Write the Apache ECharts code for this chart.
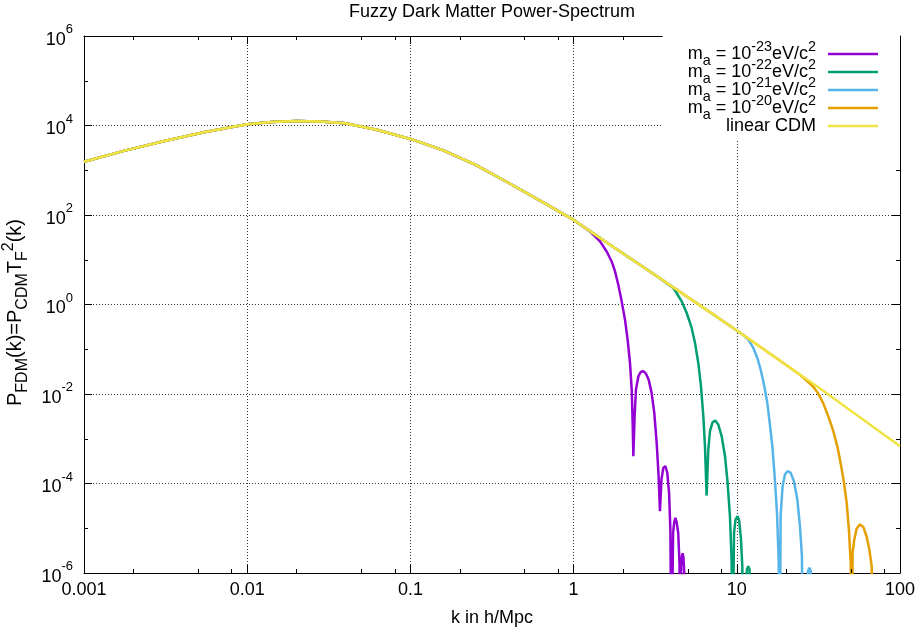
<!DOCTYPE html>
<html>
<head>
<meta charset="utf-8">
<script src="https://cdn.jsdelivr.net/npm/echarts@6/dist/echarts.min.js"></script>
<style>html,body{margin:0;padding:0;background:#fff}#c{width:922px;height:637px}</style>
</head>
<body>
<div id="c"></div>
<script>
// ---------------- data ----------------
const cdmK = [0.001, 0.00178, 0.00316, 0.00562, 0.01, 0.0141, 0.02, 0.0282, 0.0398, 0.0631, 0.1, 0.158, 0.251, 0.398, 0.631, 1, 1.78, 3.16, 5.62, 10, 17.8, 31.6, 56.2, 100];
const cdmP = [1550, 2750, 4570, 7240, 10700, 12000, 12600, 12300, 11200, 7940, 5010, 2820, 1320, 525, 204, 77.6, 18.6, 4.57, 1.10, 0.263, 0.0603, 0.0141, 0.00309, 0.000676];

// m_a = 1e-23 eV/c^2 (part that leaves the CDM curve)
const fdm23K = [1.260, 1.452, 1.594, 1.711, 1.794, 1.879, 1.970, 2.065, 2.143, 2.216, 2.270, 2.301, 2.323, 2.365, 2.410, 2.495, 2.576, 2.673, 2.777, 2.884, 3.006, 3.122, 3.228, 3.319, 3.381, 3.456, 3.545, 3.648, 3.750, 3.846, 3.917, 3.981, 4.071, 4.140, 4.207, 4.285, 4.375, 4.457, 4.498, 4.560, 4.613, 4.656, 4.710, 4.764, 4.842];
const fdm23P = [42.9, 25.7, 15.3, 9.16, 5.48, 2.77, 1.175, 0.458, 0.164, 0.0494, 0.0126, 2.26e-3, 4.07e-4, 3.16e-3, 0.0126, 0.0248, 0.0310, 0.0324, 0.0285, 0.0209, 0.0106, 3.80e-3, 8.13e-4, 1.45e-4, 2.40e-5, 1.23e-4, 2.24e-4, 2.45e-4, 1.74e-4, 6.17e-5, 9.33e-6, 1e-8, 7.94e-6, 1.41e-5, 1.70e-5, 1.32e-5, 7.94e-6, 1.58e-6, 1e-8, 1.41e-6, 2.40e-6, 2.75e-6, 2.24e-6, 1.0e-6, 1e-9];

// m_a = 1e-22 eV/c^2
const fdm22K = [4.083, 4.276, 4.592, 4.932, 5.291, 5.546, 5.808, 6.034, 6.237, 6.383, 6.531, 6.691, 6.851, 7.112, 7.379, 7.691, 8.072, 8.466, 8.783, 9.078, 9.290, 9.419, 9.616, 9.831, 10.11, 10.35, 10.61, 10.81, 10.96, 11.53, 11.75, 11.97, 12.30];
const fdm22P = [2.34, 1.807, 1.175, 0.646, 0.299, 0.138, 0.0494, 0.0148, 3.16e-3, 6.76e-4, 5.37e-5, 5.75e-4, 1.48e-3, 2.34e-3, 2.57e-3, 2.09e-3, 1.15e-3, 4.07e-4, 1.04e-4, 1.86e-5, 2.0e-6, 1e-8, 7.94e-6, 1.58e-5, 1.86e-5, 1.45e-5, 5.62e-6, 1.41e-6, 1e-8, 1.20e-6, 1.41e-6, 1.20e-6, 1e-9];

// m_a = 1e-21 eV/c^2
const fdm21K = [10.96, 11.76, 12.62, 13.36, 14.00, 14.68, 15.38, 15.91, 16.52, 17.06, 17.63, 18.05, 18.37, 18.56, 19.08, 19.72, 20.46, 21.36, 22.39, 23.49, 24.38, 25.06, 25.41, 27.35, 27.86, 28.38, 29.51];
const fdm21P = [0.208, 0.164, 0.107, 0.0640, 0.0351, 0.0162, 6.31e-3, 2.26e-3, 6.76e-4, 1.45e-4, 2.24e-5, 2.0e-6, 1e-8, 1.86e-5, 8.71e-5, 1.58e-4, 1.88e-4, 1.74e-4, 1.12e-4, 4.37e-5, 1.12e-5, 2.40e-6, 1e-8, 1.12e-6, 1.32e-6, 1.10e-6, 1e-9];

// m_a = 1e-20 eV/c^2
const fdm20K = [24.38, 26.79, 29.44, 31.58, 33.88, 36.37, 39.02, 41.30, 43.25, 45.39, 47.10, 48.64, 49.89, 50.82, 51.24, 52.46, 54.20, 56.87, 59.57, 62.48, 64.86, 67.07, 68.39];
const fdm20P = [0.0269, 0.0200, 0.0145, 0.0102, 6.17e-3, 3.16e-3, 1.48e-3, 6.76e-4, 2.88e-4, 1.04e-4, 3.72e-5, 9.33e-6, 1.70e-6, 1e-8, 2.82e-6, 5.62e-6, 9.77e-6, 1.22e-5, 1.07e-5, 6.46e-6, 3.39e-6, 1.41e-6, 1e-8];

const massExponents = ['-23', '-22', '-21', '-20'];
const seriesNames = ['m_a = 1e-23 eV/c^2', 'm_a = 1e-22 eV/c^2', 'm_a = 1e-21 eV/c^2', 'm_a = 1e-20 eV/c^2', 'linear CDM'];
const seriesColors = ['#9400d3', '#009e73', '#56b4e9', '#e69f00', '#f0e442'];

const xRange = [0.001, 100];
const yRange = [1e-6, 1e6];
const xTickLabels = ['0.001', '0.01', '0.1', '1', '10', '100'];
const yTickExponents = ['-6', '-4', '-2', '0', '2', '4', '6'];
const minorXTicks = [0.002, 0.005, 0.008, 0.02, 0.05, 0.08, 0.2, 0.5, 0.8, 2, 5, 8, 20, 50, 80];
const minorYTicks = [1e5, 1e3, 10, 0.1, 1e-3, 1e-5];

// ---------------- chart ----------------
const FONT = '"Liberation Sans", Arial, Helvetica, sans-serif';
const chart = echarts.init(document.getElementById('c'), null, {renderer: 'canvas', width: 922, height: 637});

function pairs(ks, ps) { return ks.map((k, i) => [k, ps[i]]); }
function withCdm(ks, ps) {
  const pre = [];
  cdmK.forEach((k, i) => { if (k < ks[0]) pre.push([k, cdmP[i]]); });
  return pre.concat(pairs(ks, ps));
}

const richSS = {
  n: {fontSize: 18, fontFamily: FONT, color: '#000'},
  sub: {fontSize: 14.4, lineHeight: 16, verticalAlign: 'bottom', fontFamily: FONT, color: '#000'},
  sup: {fontSize: 14.4, lineHeight: 14, verticalAlign: 'top', fontFamily: FONT, color: '#000'},
  g: {width: 7, fontSize: 18}
};
const richName = {
  n: {fontSize: 20, fontFamily: FONT, color: '#000'},
  sub: {fontSize: 16, lineHeight: 17, verticalAlign: 'bottom', fontFamily: FONT, color: '#000'},
  sup: {fontSize: 16, lineHeight: 15, verticalAlign: 'top', fontFamily: FONT, color: '#000'}
};

const lineData = [
  withCdm(fdm23K, fdm23P),
  withCdm(fdm22K, fdm22P),
  withCdm(fdm21K, fdm21P),
  withCdm(fdm20K, fdm20P),
  pairs(cdmK, cdmP)
];

const series = lineData.map((d, i) => ({
  type: 'line', name: seriesNames[i], data: d,
  showSymbol: false, symbol: 'none', clip: true,
  lineStyle: {width: 2.5, color: seriesColors[i]},
  itemStyle: {color: seriesColors[i]},
  emphasis: {disabled: true}, silent: true, z: 3
}));

// minor tick marks (inside the frame), placed through the axes' own scales
function tickSeries(data, dx, dy) {
  return {
    type: 'custom', data: data, silent: true, clip: false, z: 6,
    renderItem: function (params, api) {
      const p = api.coord([api.value(0), api.value(1)]);
      const x = dx === 0 ? Math.round(p[0]) + 0.5 : p[0];
      const y = dy === 0 ? Math.round(p[1]) + 0.5 : p[1];
      return {
        type: 'line',
        shape: {x1: x, y1: y, x2: x + dx, y2: y + dy},
        style: {stroke: '#000', lineWidth: 1}
      };
    }
  };
}
series.push(tickSeries(minorXTicks.map(v => [v, yRange[0]]), 0, -4));
series.push(tickSeries(minorXTicks.map(v => [v, yRange[1]]), 0, 4));
series.push(tickSeries(minorYTicks.map(v => [xRange[0], v]), 4, 0));
series.push(tickSeries(minorYTicks.map(v => [xRange[1], v]), -4, 0));

const axisLine = {show: true, onZero: false, lineStyle: {color: '#000', width: 1}};
const majorTick = {show: true, inside: true, length: 8, lineStyle: {color: '#000', width: 1}};
const gridLine = {show: true, lineStyle: {color: '#333', width: 1, type: [1, 2]}};

const option = {
  animation: false,
  backgroundColor: '#fff',
  textStyle: {fontFamily: FONT},
  title: {
    text: 'Fuzzy Dark Matter Power-Spectrum',
    left: 349, top: 3, padding: 0,
    textStyle: {fontSize: 18, fontWeight: 'normal', color: '#000', fontFamily: FONT}
  },
  grid: {left: 84, right: 22, top: 36, bottom: 64, containLabel: false, outerBoundsMode: 'none'},
  legend: {
    data: seriesNames, orient: 'vertical', align: 'right',
    right: 22, top: 36, padding: [4, 22, 0, 25], itemGap: -10,
    itemWidth: 50, itemHeight: 2.5, icon: 'rect',
    backgroundColor: '#fff', selectedMode: false, z: 10,
    formatter: function (name) {
      const i = seriesNames.indexOf(name);
      if (i < massExponents.length) {
        return '{n|m}{sub|a}{n| = 10}{sup|' + massExponents[i] + '}{n|eV/c}{sup|2}{g| }';
      }
      return '{n|linear CDM}{g| }';
    },
    textStyle: {fontSize: 18, lineHeight: 28, color: '#000', fontFamily: FONT, rich: richSS}
  },
  xAxis: [
    {
      type: 'log', logBase: 10, min: xRange[0], max: xRange[1], position: 'bottom',
      axisLine: axisLine, axisTick: majorTick, minorTick: {show: false},
      axisLabel: {
        fontSize: 18, color: '#000', fontFamily: FONT, margin: 8,
        formatter: v => xTickLabels[Math.round(Math.log10(v)) + 3]
      },
      splitLine: gridLine,
      name: 'k in h/Mpc', nameLocation: 'middle', nameGap: 36,
      nameTextStyle: {fontSize: 18, color: '#000', fontFamily: FONT}
    },
    {
      type: 'log', logBase: 10, min: xRange[0], max: xRange[1], position: 'top',
      axisLine: axisLine, axisTick: majorTick, axisLabel: {show: false}, splitLine: {show: false}
    }
  ],
  yAxis: [
    {
      type: 'log', logBase: 100, min: yRange[0], max: yRange[1], position: 'left',
      axisLine: axisLine, axisTick: majorTick, minorTick: {show: false},
      axisLabel: {
        fontSize: 18, lineHeight: 30, color: '#000', fontFamily: FONT, margin: 11,
        formatter: v => '{b|10}{s|' + yTickExponents[Math.round((Math.log10(v) + 6) / 2)] + '}',
        rich: {
          b: {fontSize: 18, lineHeight: 26, verticalAlign: 'bottom', color: '#000', fontFamily: FONT},
          s: {fontSize: 13, lineHeight: 20, verticalAlign: 'top', color: '#000', fontFamily: FONT}
        }
      },
      splitLine: gridLine,
      name: '{n|P}{sub|FDM}{n|(k)=P}{sub|CDM}{n|T}{sub|F}{sup|2}{n|(k)}',
      nameLocation: 'middle', nameRotate: 90, nameGap: 42,
      nameTextStyle: {fontSize: 20, lineHeight: 30, color: '#000', fontFamily: FONT, rich: richName, padding: [0, 16, 0, 0]}
    },
    {
      type: 'log', logBase: 100, min: yRange[0], max: yRange[1], position: 'right',
      axisLine: axisLine, axisTick: majorTick, axisLabel: {show: false}, splitLine: {show: false}
    }
  ],
  series: series
};
chart.setOption(option);
</script>
</body>
</html>
